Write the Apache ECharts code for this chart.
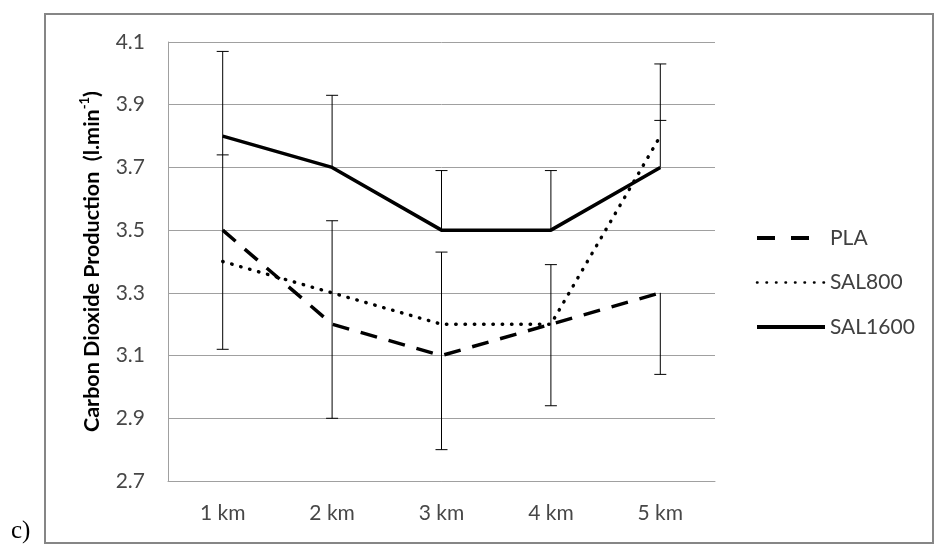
<!DOCTYPE html>
<html>
<head>
<meta charset="utf-8">
<script src="https://cdn.jsdelivr.net/npm/echarts@6/dist/echarts.min.js"></script>
<style>
    html, body { margin: 0; padding: 0; background: #fff; }
    #chart { width: 938px; height: 557px; }
</style>
</head>
<body>
<div id="chart"></div>
<script>
// 距离（横轴）
var distances = ['1 km', '2 km', '3 km', '4 km', '5 km'];
// 三组数据
var plaValues = [3.5, 3.2, 3.1, 3.2, 3.3];
var sal800Values = [3.4, 3.3, 3.2, 3.2, 3.8];
var sal1600Values = [3.8, 3.7, 3.5, 3.5, 3.7];
// 纵轴刻度
var yTicks = [2.7, 2.9, 3.1, 3.3, 3.5, 3.7, 3.9, 4.1];
// 误差线竖线：[类别索引, 下端, 上端]
var whiskers = [
    [0, 3.12, 4.07],
    [1, 3.70, 3.93], [1, 2.90, 3.53],
    [2, 3.50, 3.69], [2, 2.80, 3.43],
    [3, 3.50, 3.69], [3, 2.94, 3.39],
    [4, 3.70, 4.03], [4, 3.04, 3.30]
];
// 误差线端帽：[类别索引, 值]
var caps = [
    [0, 4.07], [0, 3.74], [0, 3.12],
    [1, 3.93], [1, 3.53], [1, 2.90],
    [2, 3.69], [2, 3.43], [2, 2.80],
    [3, 3.69], [3, 3.39], [3, 2.94],
    [4, 4.03], [4, 3.85], [4, 3.04]
];

var chart = echarts.init(document.getElementById('chart'));
var labelFont = 'Lato, "Open Sans", sans-serif';
var labelColor = '#474747';

var option = {
    animation: false,
    backgroundColor: '#fff',
    grid: { left: 168, right: 223, top: 42, bottom: 76 },
    legend: {
        orient: 'vertical',
        left: 750,
        top: 221,
        itemWidth: 68,
        itemHeight: 14,
        itemGap: 20.5,
        itemStyle: { opacity: 0 },
        data: [
            { name: 'PLA', lineStyle: { width: 4, type: [18, 16] } },
            { name: 'SAL800', lineStyle: { width: 2.5, type: [0.5, 9], cap: 'round' } },
            { name: 'SAL1600', lineStyle: { width: 4 } }
        ],
        textStyle: { fontFamily: labelFont, fontSize: 21, color: '#404040', lineHeight: 24 }
    },
    xAxis: {
        type: 'category',
        data: distances,
        boundaryGap: true,
        axisLine: { show: true, lineStyle: { color: '#a0a0a0', width: 1 } },
        axisTick: { show: false },
        axisLabel: { margin: 22, fontFamily: labelFont, fontSize: 21, color: labelColor },
        splitLine: { show: false }
    },
    yAxis: {
        type: 'value',
        min: 2.7,
        max: 4.1,
        axisLine: { show: true, lineStyle: { color: '#a0a0a0', width: 1 } },
        axisTick: { show: false, customValues: yTicks },
        axisLabel: {
            customValues: yTicks,
            margin: 23,
            fontFamily: labelFont,
            fontSize: 21,
            color: labelColor,
            formatter: function(v) { return v.toFixed(1); }
        },
        splitLine: { show: true, lineStyle: { color: '#a0a0a0', width: 1 } },
        name: '{a|Carbon Dioxide Production  (l.min}{s|-1}{a|)}',
        nameLocation: 'middle',
        nameRotate: 90,
        nameGap: 62,
        nameTextStyle: {
            rich: {
                a: { fontFamily: labelFont, fontWeight: 'bold', fontSize: 21.5, color: '#000', lineHeight: 28 },
                s: { fontFamily: labelFont, fontWeight: 'bold', fontSize: 13, color: '#000', verticalAlign: 'top', lineHeight: 28 }
            }
        }
    },
    series: [
        {
            name: 'whiskers',
            type: 'custom',
            data: whiskers,
            encode: { x: 0, y: [1, 2] },
            z: 1,
            renderItem: function(params, api) {
                var lo = api.coord([api.value(0), api.value(1)]);
                var hi = api.coord([api.value(0), api.value(2)]);
                return {
                    type: 'line',
                    shape: { x1: lo[0], y1: lo[1], x2: hi[0], y2: hi[1] },
                    style: { stroke: '#000', lineWidth: 1 }
                };
            }
        },
        {
            name: 'caps',
            type: 'custom',
            data: caps,
            encode: { x: 0, y: 1 },
            z: 1,
            renderItem: function(params, api) {
                var p = api.coord([api.value(0), api.value(1)]);
                return {
                    type: 'line',
                    shape: { x1: p[0] - 6, y1: p[1], x2: p[0] + 6, y2: p[1] },
                    style: { stroke: '#000', lineWidth: 1 }
                };
            }
        },
        {
            name: 'PLA',
            type: 'line',
            data: plaValues,
            symbol: 'none',
            z: 3,
            itemStyle: { color: '#000' },
            lineStyle: { color: '#000', width: 3.5, type: [17, 12] }
        },
        {
            name: 'SAL800',
            type: 'line',
            data: sal800Values,
            symbol: 'none',
            z: 3,
            itemStyle: { color: '#000' },
            lineStyle: { color: '#000', width: 3.4, type: [0.5, 8.8], cap: 'round' }
        },
        {
            name: 'SAL1600',
            type: 'line',
            data: sal1600Values,
            symbol: 'none',
            z: 3,
            itemStyle: { color: '#000' },
            lineStyle: { color: '#000', width: 3.5 }
        }
    ],
    graphic: [
        {
            type: 'rect',
            shape: { x: 45, y: 14, width: 888, height: 529 },
            style: { fill: null, stroke: '#868686', lineWidth: 2 },
            silent: true
        },
        {
            type: 'text',
            left: 11,
            top: 519,
            style: { text: 'c)', font: '25px "Liberation Serif", serif', fill: '#000' }
        }
    ]
};

chart.setOption(option);
</script>
</body>
</html>
